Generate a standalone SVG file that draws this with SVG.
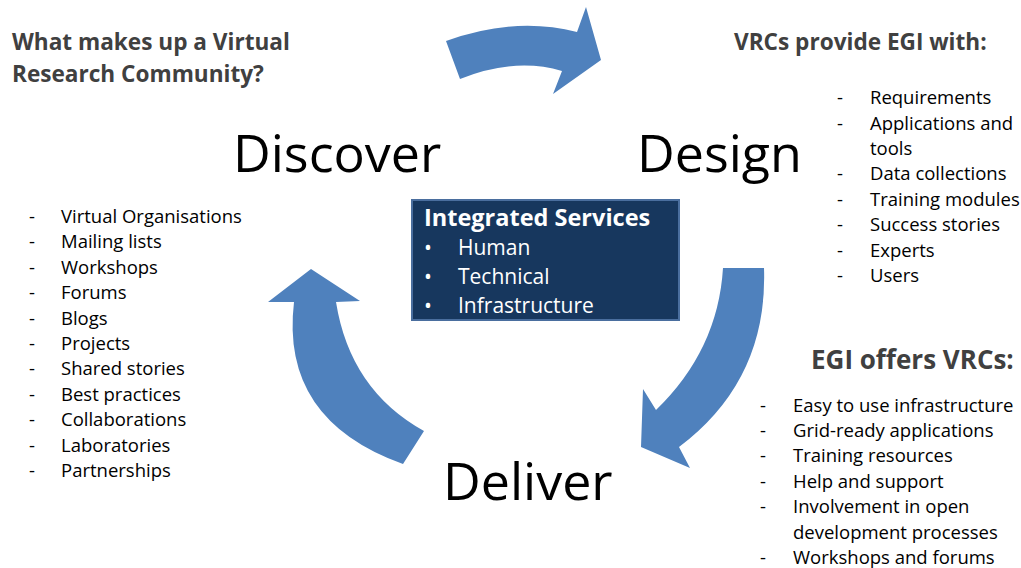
<svg xmlns="http://www.w3.org/2000/svg" width="1021" height="568" viewBox="0 0 1021 568">
<style>
.arrow{fill:#4F81BD;}
.hdr{font-family:"Open Sans","Liberation Sans",sans-serif;font-weight:bold;font-size:22.6px;fill:#404040;}
.hdr2{font-family:"Open Sans","Liberation Sans",sans-serif;font-weight:bold;font-size:26px;fill:#404040;}
.big{font-family:"Open Sans","Liberation Sans",sans-serif;font-size:52px;fill:#000;}
.li{font-family:"Open Sans","Liberation Sans",sans-serif;font-size:18.5px;fill:#000;}
.box{fill:#17375E;stroke:#4A6E9E;stroke-width:2;}
.bt{font-family:"Open Sans","Liberation Sans",sans-serif;font-size:21px;fill:#fff;}
.btt{font-family:"Open Sans","Liberation Sans",sans-serif;font-size:23.5px;font-weight:bold;fill:#fff;}
</style>
<rect width="1021" height="568" fill="#fff"/>
<g id="connectors">
<path class="arrow" d="M446,41 Q515,16 577,32 L586,7 L601,60 L553,94 L562,71 Q515,57 460,79 Z"/>
<path class="arrow" d="M723,268 L764,268 Q768,380 679,447 L690,468 L641,447 L643,389 L656,410 Q718,350 723,268 Z"/>
<path class="arrow" d="M311,269 L360,301 L336,302 Q350,390 424,431 L403,464 Q280,420 294,302 L268,302 Z"/>
</g>
<g id="question">
<text class="hdr" x="12" y="50">What makes up a Virtual</text>
<text class="hdr" x="12" y="82">Research Community?</text>
</g>
<g id="vrcs-provide">
<text class="hdr" x="734" y="50">VRCs provide EGI with:</text>
</g>
<g id="discover"><text class="big" x="233" y="172">Discover</text></g>
<g id="design"><text class="big" x="637" y="172">Design</text></g>
<g id="deliver"><text class="big" x="443" y="500">Deliver</text></g>
<g id="integrated-services">
<rect class="box" x="412" y="200" width="267" height="120"/>
<text class="btt" x="424" y="226">Integrated Services</text>
<text class="bt" x="424" y="255">•</text><text class="bt" x="458" y="255">Human</text>
<text class="bt" x="424" y="284">•</text><text class="bt" x="458" y="284">Technical</text>
<text class="bt" x="424" y="313">•</text><text class="bt" x="458" y="313">Infrastructure</text>
</g>
<g id="discover-list">
<text class="li" x="29" y="223">-</text><text class="li" x="61" y="223">Virtual Organisations</text>
<text class="li" x="29" y="248">-</text><text class="li" x="61" y="248">Mailing lists</text>
<text class="li" x="29" y="274">-</text><text class="li" x="61" y="274">Workshops</text>
<text class="li" x="29" y="299">-</text><text class="li" x="61" y="299">Forums</text>
<text class="li" x="29" y="325">-</text><text class="li" x="61" y="325">Blogs</text>
<text class="li" x="29" y="350">-</text><text class="li" x="61" y="350">Projects</text>
<text class="li" x="29" y="375">-</text><text class="li" x="61" y="375">Shared stories</text>
<text class="li" x="29" y="401">-</text><text class="li" x="61" y="401">Best practices</text>
<text class="li" x="29" y="426">-</text><text class="li" x="61" y="426">Collaborations</text>
<text class="li" x="29" y="452">-</text><text class="li" x="61" y="452">Laboratories</text>
<text class="li" x="29" y="477">-</text><text class="li" x="61" y="477">Partnerships</text>
</g>
<g id="design-list">
<text class="li" x="837" y="104">-</text><text class="li" x="870" y="104">Requirements</text>
<text class="li" x="837" y="130">-</text><text class="li" x="870" y="130">Applications and</text>
<text class="li" x="870" y="155">tools</text>
<text class="li" x="837" y="180">-</text><text class="li" x="870" y="180">Data collections</text>
<text class="li" x="837" y="206">-</text><text class="li" x="870" y="206">Training modules</text>
<text class="li" x="837" y="231">-</text><text class="li" x="870" y="231">Success stories</text>
<text class="li" x="837" y="257">-</text><text class="li" x="870" y="257">Experts</text>
<text class="li" x="837" y="282">-</text><text class="li" x="870" y="282">Users</text>
</g>
<g id="egi-offers">
<text class="hdr2" x="811" y="369">EGI offers VRCs:</text>
</g>
<g id="deliver-list">
<text class="li" x="760" y="412">-</text><text class="li" x="793" y="412">Easy to use infrastructure</text>
<text class="li" x="760" y="437">-</text><text class="li" x="793" y="437">Grid-ready applications</text>
<text class="li" x="760" y="462">-</text><text class="li" x="793" y="462">Training resources</text>
<text class="li" x="760" y="488">-</text><text class="li" x="793" y="488">Help and support</text>
<text class="li" x="760" y="513">-</text><text class="li" x="793" y="513">Involvement in open</text>
<text class="li" x="793" y="539">development processes</text>
<text class="li" x="760" y="564">-</text><text class="li" x="793" y="564">Workshops and forums</text>
</g>
</svg>
